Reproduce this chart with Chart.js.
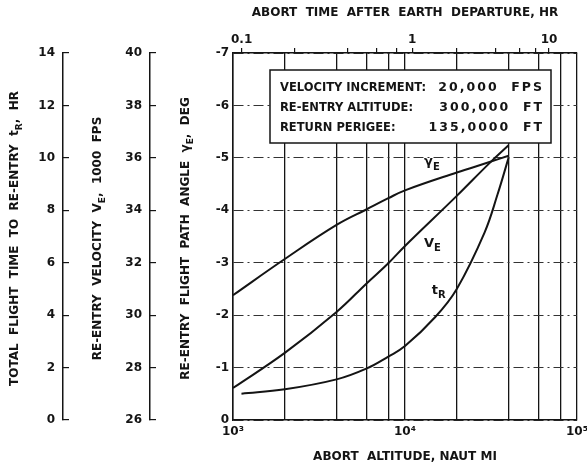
<!DOCTYPE html>
<html>
<head>
<meta charset="utf-8">
<script src="https://cdn.jsdelivr.net/npm/chart.js@4"></script>
<style>
  html, body { margin: 0; padding: 0; background: #fff; }
</style>
</head>
<body>
<canvas id="chart" width="587" height="470"></canvas>
<script>
const FONT = '"DejaVu Sans", sans-serif';
const INK = '#141414';

// abort altitude (naut mi) grid and labels
const altTicks = [1000, 2000, 4000, 6000, 8000, 10000, 20000, 40000, 60000, 80000, 100000];
const altLabels = ['10³', '', '', '', '', '10⁴', '', '', '', '', '10⁵'];

// top axis: abort time (hr) and the altitude each tick sits at
const timeTicks = [0.1, 0.2, 0.4, 0.6, 0.8, 1, 2, 4, 6, 8, 10];
const timeTickAlt = [1122, 2290, 4660, 6800, 8890, 11020, 20000, 33800, 46100, 57600, 68800];
const timeLabeled = [0.1, 1, 10];

// re-entry flight path angle, deg
const gammaAlt = [1000, 2000, 4000, 6000, 8000, 10000, 20000, 31000, 40000];
const gammaVal = [-2.38, -3.07, -3.72, -4.02, -4.23, -4.38, -4.72, -4.92, -5.04];

// re-entry velocity, 1000 fps
const veAlt = [1000, 2000, 4000, 6000, 8000, 10000, 20000, 31000, 40000];
const veVal = [27.22, 28.56, 30.12, 31.22, 31.98, 32.64, 34.55, 35.8, 36.48];

// total flight time to re-entry, hr
const trAlt = [1120, 2000, 4000, 6000, 8000, 10000, 15000, 20000, 29000, 34500, 40000];
const trVal = [1.0, 1.17, 1.55, 1.97, 2.42, 2.82, 3.93, 5.0, 7.15, 8.6, 10.0];

const infoLabels = ['VELOCITY INCREMENT:', 'RE-ENTRY ALTITUDE:', 'RETURN PERIGEE:'];
const infoValues = ['20,000  FPS', '300,000  FT', '135,0000  FT'];

// curve tags: symbol, subscript, altitude, angle (deg) where the tag sits
const tagText = ['γ', 'V', 't'];
const tagSub = ['E', 'E', 'R'];
const tagAlt = [12900, 12900, 14300];
const tagGamma = [-4.92, -3.37, -2.47];

function pts(xs, ys) {
  return xs.map((x, i) => ({ x: x, y: ys[i] }));
}

function tickFont(size) {
  return { family: FONT, size: size, weight: 'bold' };
}

// text with subscripts, optionally rotated
function drawRich(ctx, parts, x, y, rot, size, align) {
  const main = 'bold ' + size + 'px ' + FONT;
  const sub = 'bold ' + Math.round(size * 0.78) + 'px ' + FONT;
  ctx.save();
  ctx.translate(x, y);
  ctx.rotate(rot);
  ctx.fillStyle = INK;
  ctx.textBaseline = 'middle';
  ctx.textAlign = 'left';
  let w = 0;
  parts.forEach(p => { ctx.font = p[1] ? sub : main; w += ctx.measureText(p[0]).width; });
  let cx = align === 'left' ? 0 : -w / 2;
  parts.forEach(p => {
    ctx.font = p[1] ? sub : main;
    ctx.fillText(p[0], cx, p[1] ? size * 0.4 : 0);
    cx += ctx.measureText(p[0]).width;
  });
  ctx.restore();
}

const overlay = {
  id: 'overlay',
  beforeDatasetsDraw(chart) {
    const ctx = chart.ctx;
    const ca = chart.chartArea;
    const left = ca.left + 37, top = ca.top + 17, right = ca.right - 26, bottom = ca.top + 90;
    ctx.save();
    ctx.fillStyle = '#fff';
    ctx.fillRect(left, top, right - left, bottom - top);
    ctx.strokeStyle = INK;
    ctx.lineWidth = 1.5;
    ctx.strokeRect(left, top, right - left, bottom - top);
    ctx.fillStyle = INK;
    ctx.textBaseline = 'middle';
    infoLabels.forEach((t, i) => {
      const y = top + 18 + i * 20;
      ctx.font = 'bold 11.5px ' + FONT;
      ctx.letterSpacing = '0px';
      ctx.textAlign = 'left';
      ctx.fillText(t, left + 10, y);
      ctx.font = 'bold 12.5px ' + FONT;
      ctx.letterSpacing = '2px';
      ctx.textAlign = 'right';
      ctx.fillText(infoValues[i], right - 7, y);
    });
    ctx.restore();
  },
  afterDraw(chart) {
    const ctx = chart.ctx;
    const ca = chart.chartArea;
    const s = chart.scales;
    const midY = (ca.top + ca.bottom) / 2 + 2;
    const rot = -Math.PI / 2;
    drawRich(ctx, [['TOTAL  FLIGHT  TIME  TO  RE-ENTRY  t'], ['R', 1], [',  HR']], s.yT.left + 15, midY, rot, 12);
    drawRich(ctx, [['RE-ENTRY  VELOCITY  V'], ['E', 1], [',  1000  FPS']], s.yV.left + 35, midY, rot, 12);
    drawRich(ctx, [['RE-ENTRY  FLIGHT  PATH  ANGLE  γ'], ['E', 1], [',  DEG']], s.yG.left + 36, midY, rot, 12);
    tagText.forEach((t, i) => {
      const px = s.x.getPixelForValue(tagAlt[i]);
      const py = s.yG.getPixelForValue(tagGamma[i]);
      drawRich(ctx, [[t], [tagSub[i], 1]], px, py, 0, 13, 'left');
    });
  }
};

const lineStyle = {
  borderColor: INK,
  borderWidth: 2,
  pointRadius: 0,
  fill: false,
  tension: 0.4
};

new Chart(document.getElementById('chart').getContext('2d'), {
  type: 'line',
  data: {
    datasets: [
      Object.assign({ label: 'gamma', data: pts(gammaAlt, gammaVal), xAxisID: 'x', yAxisID: 'yG' }, lineStyle),
      Object.assign({ label: 'VE', data: pts(veAlt, veVal), xAxisID: 'x', yAxisID: 'yV' }, lineStyle),
      Object.assign({ label: 'tR', data: pts(trAlt, trVal), xAxisID: 'x', yAxisID: 'yT' }, lineStyle)
    ]
  },
  options: {
    responsive: false,
    animation: false,
    layout: { padding: { left: 0, right: 10, top: 0, bottom: 0 } },
    plugins: { legend: { display: false }, tooltip: { enabled: false } },
    scales: {
      x: {
        type: 'logarithmic',
        position: 'bottom',
        min: 1000,
        max: 100000,
        afterBuildTicks: sc => { sc.ticks = altTicks.map(v => ({ value: v })); },
        afterFit: sc => { sc.height = 50; sc.paddingLeft = 0; sc.paddingRight = 0; },
        ticks: { autoSkip: false, maxRotation: 0, padding: 5, color: INK, font: tickFont(12),
                 callback: (v, i) => altLabels[i] },
        grid: { color: INK, lineWidth: 1.3, drawTicks: false },
        border: { color: INK, width: 1.5 },
        title: { display: true, text: 'ABORT  ALTITUDE, NAUT MI', color: INK, font: tickFont(12),
                 padding: { top: 0, bottom: 6 } }
      },
      x2: {
        type: 'logarithmic',
        position: 'top',
        min: 1000,
        max: 100000,
        afterBuildTicks: sc => { sc.ticks = timeTickAlt.map(v => ({ value: v })); },
        afterFit: sc => { sc.height = 53; sc.paddingLeft = 0; sc.paddingRight = 0; },
        ticks: { autoSkip: false, maxRotation: 0, padding: 1, color: INK, font: tickFont(12),
                 callback: (v, i) => timeLabeled.includes(timeTicks[i]) ? String(timeTicks[i]) : '' },
        grid: { drawOnChartArea: false, color: INK, lineWidth: 1.2, tickLength: 5 },
        border: { color: INK, width: 1.5 },
        title: { display: true, text: 'ABORT  TIME  AFTER  EARTH  DEPARTURE, HR', color: INK, font: tickFont(12),
                 padding: { top: 6, bottom: 0 } }
      },
      yT: {
        type: 'linear',
        position: 'left',
        weight: 2,
        min: 0,
        max: 14,
        afterFit: sc => { sc.width = 63; },
        ticks: { stepSize: 2, padding: 14, color: INK, font: tickFont(12) },
        grid: { drawOnChartArea: false, color: INK, tickLength: -6, lineWidth: 1.2 },
        border: { color: INK, width: 1.5 }
      },
      yV: {
        type: 'linear',
        position: 'left',
        weight: 1,
        min: 26,
        max: 40,
        afterFit: sc => { sc.width = 87; },
        ticks: { stepSize: 2, padding: 14, color: INK, font: tickFont(12) },
        grid: { drawOnChartArea: false, color: INK, tickLength: -6, lineWidth: 1.2 },
        border: { color: INK, width: 1.5 }
      },
      yG: {
        type: 'linear',
        position: 'left',
        weight: 0,
        min: -7,
        max: 0,
        reverse: true,
        afterFit: sc => { sc.width = 83; },
        ticks: { stepSize: 1, padding: 4, color: INK, font: tickFont(12) },
        grid: { color: '#333', lineWidth: 1, drawTicks: false },
        border: { color: INK, width: 1.5, dash: [10, 4, 2, 4] }
      }
    }
  },
  plugins: [overlay]
});
</script>
</body>
</html>
